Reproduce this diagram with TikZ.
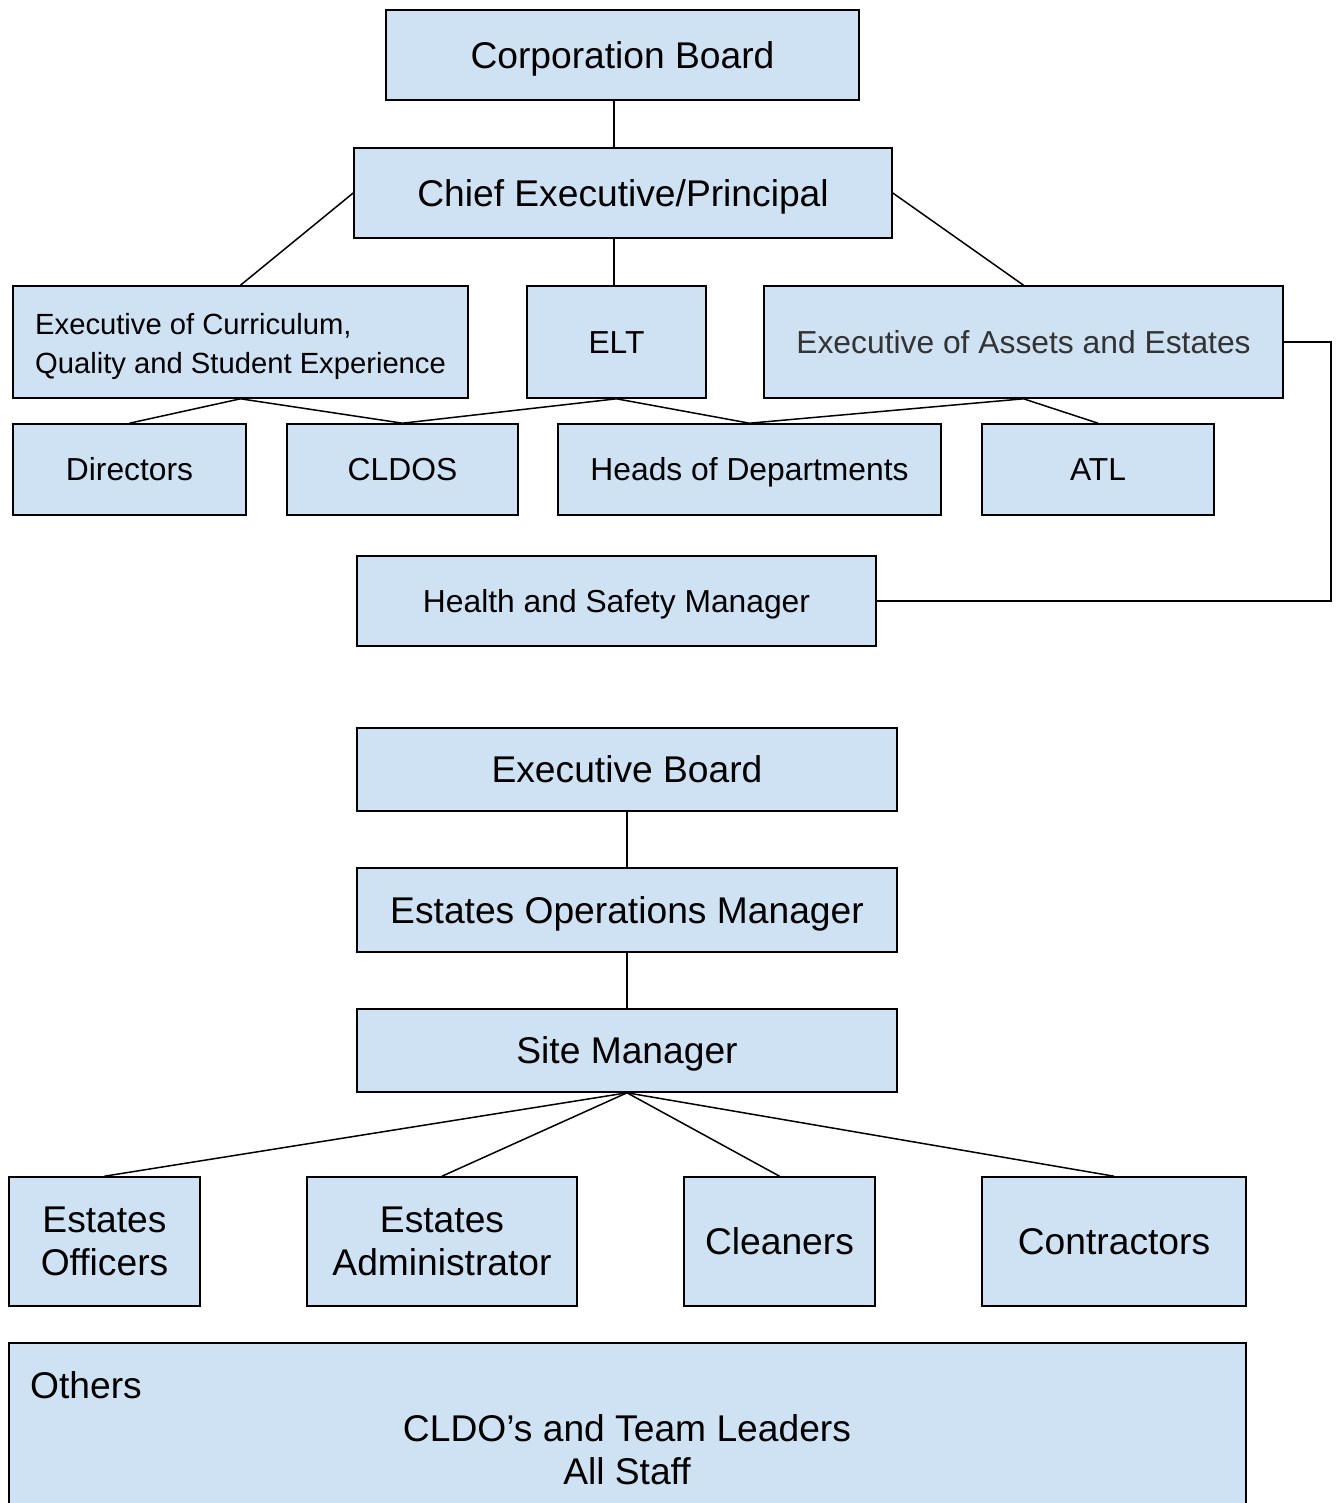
\documentclass[tikz,border=0pt]{standalone}
\usepackage{fontspec}
\setmainfont{Liberation Sans}
\usetikzlibrary{calc}
\definecolor{boxfill}{HTML}{CFE2F3}
\definecolor{darktext}{HTML}{333333}
\tikzset{
  box/.style={draw=black, fill=boxfill, line width=1.6pt, inner sep=0pt, align=center,
    font=\fontsize{37.2}{43}\selectfont},
  medbox/.style={box, font=\fontsize{31.8}{38}\selectfont},
  onebig/.style={text height=26.7pt, text depth=0pt},
  onemed/.style={text height=22.8pt, text depth=0pt},
  plaintext/.style={inner sep=0pt, align=center, font=\fontsize{37.2}{43}\selectfont},
  conn/.style={draw=black, line width=1.5pt},
}
\begin{document}
\begin{tikzpicture}[x=1pt,y=-1pt]
\useasboundingbox (0,0) rectangle (1337,1503);

% ---- top chart ----
\node[box, onebig, minimum width=473pt, minimum height=90pt] (cb) at (622.5,55) {Corporation Board};
\node[box, onebig, minimum width=538pt, minimum height=90pt] (ce) at (623,193) {Chief Executive/Principal};

\node[box, minimum width=455pt, minimum height=112pt] (ecq) at (240.5,342) {};
\node[inner sep=0pt, anchor=west, align=left, font=\fontsize{29.2}{39}\selectfont] (ecqt) at (35,346)
  {Executive of Curriculum,\\Quality and Student Experience};
\node[medbox, onemed, minimum width=179pt, minimum height=112pt] (elt) at (616.5,342) {ELT};
\node[medbox, onemed, minimum width=519pt, minimum height=112pt, text=darktext] (eae) at (1023.5,342) {Executive of Assets and Estates};

\node[medbox, onemed, minimum width=233pt, minimum height=91pt] (dir) at (129.5,469.5) {Directors};
\node[medbox, onemed, minimum width=231pt, minimum height=91pt] (cld) at (402.5,469.5) {CLDOS};
\node[medbox, onemed, minimum width=383pt, minimum height=91pt] (hod) at (749.5,469.5) {Heads of Departments};
\node[medbox, onemed, minimum width=232pt, minimum height=91pt] (atl) at (1098,469.5) {ATL};

\node[medbox, onemed, minimum width=519pt, minimum height=90pt] (hsm) at (616.5,601) {Health and Safety Manager};

\draw[conn] ([xshift=-8.5pt]cb.south) -- ([xshift=-9pt]ce.north);
\draw[conn] (ce.west) -- (ecq.north);
\draw[conn] ([xshift=-9pt]ce.south) -- ([xshift=-2.5pt]elt.north);
\draw[conn] (ce.east) -- (eae.north);

\draw[conn] (ecq.south) -- (dir.north);
\draw[conn] (ecq.south) -- (cld.north);
\draw[conn] (elt.south) -- (cld.north);
\draw[conn] (elt.south) -- (hod.north);
\draw[conn] (eae.south) -- (hod.north);
\draw[conn] (eae.south) -- (atl.north);

\coordinate (bend) at (1331,342);
\draw[conn] (eae.east) -- (bend) |- (hsm.east);

% ---- bottom chart ----
\node[box, onebig, minimum width=540pt, minimum height=83pt] (eb) at (627,769.5) {Executive Board};
\node[box, onebig, minimum width=540pt, minimum height=84pt] (eom) at (627,910) {Estates Operations Manager};
\node[box, onebig, minimum width=540pt, minimum height=83pt] (sm) at (627,1050.5) {Site Manager};

\node[box, minimum width=191pt, minimum height=129pt] (eo) at (104.5,1241.5) {Estates\\Officers};
\node[box, minimum width=270pt, minimum height=129pt] (ea) at (442,1241.5) {Estates\\Administrator};
\node[box, onebig, minimum width=191pt, minimum height=129pt] (cl) at (779.5,1241.5) {Cleaners};
\node[box, onebig, minimum width=264pt, minimum height=129pt] (co) at (1114,1241.5) {Contractors};

\draw[conn] (eb.south) -- (eom.north);
\draw[conn] (eom.south) -- (sm.north);
\draw[conn] (sm.south) -- (eo.north);
\draw[conn] (sm.south) -- (ea.north);
\draw[conn] (sm.south) -- (cl.north);
\draw[conn] (sm.south) -- (co.north);

\node[box, minimum width=1237pt, minimum height=200pt] (oth) at (627.5,1443) {};
\node[plaintext, anchor=west] (otht) at (30,1385) {Others};
\node[plaintext] (staff) at (627,1449.5) {CLDO’s and Team Leaders\\All Staff};
\end{tikzpicture}
\end{document}
